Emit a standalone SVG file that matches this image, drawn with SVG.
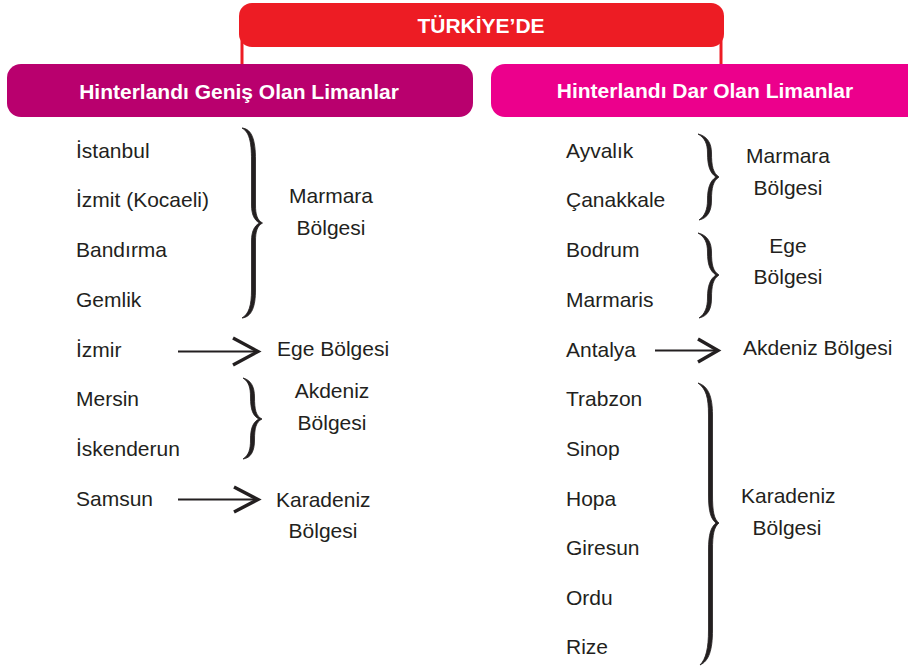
<svg xmlns="http://www.w3.org/2000/svg" width="908" height="671" viewBox="0 0 908 671">
<style>
.t{font-family:"Liberation Sans",Arial,sans-serif;font-size:21px;fill:#231f20}
.h{font-family:"Liberation Sans",Arial,sans-serif;font-size:21px;font-weight:bold;fill:#fff;text-anchor:middle}
.c{text-anchor:middle}
.ln{stroke:#231f20;stroke-width:2;fill:none}
.ah{stroke:#231f20;stroke-width:3.4;fill:none;stroke-linejoin:miter;stroke-linecap:butt}
.br{fill:#231f20;stroke:#231f20;stroke-width:0.8}
.rl{stroke:#ed1c24;stroke-width:3;fill:none}
</style>
<rect width="908" height="671" fill="#fff"/>
<g id="connectors">
<line class="rl" x1="242" y1="36" x2="242" y2="66"/>
<line class="rl" x1="721" y1="36" x2="721" y2="66"/>
<line class="ln" x1="178" y1="351.5" x2="256" y2="351.5"/>
<polyline class="ah" points="233,338 258,351.5 233,365"/>
<line class="ln" x1="178" y1="499.5" x2="256" y2="499.5"/>
<polyline class="ah" points="234,487 258,499.5 234,512"/>
<line class="ln" x1="655" y1="350.5" x2="716" y2="350.5"/>
<polyline class="ah" points="698,339 718,350.5 698,362"/>
<path class="br" d="M242,128 C252,129 255.5,140 255.5,160 L255.5,205 C255.5,214 257,220 262.5,223 C257,226 255.5,232 255.5,241 L255.5,290 C255.5,306 252,317 242,318 C249,314 251.5,305 251.5,290 L251.5,241 C251.5,232 254,226 259.5,223 C254,220 251.5,214 251.5,205 L251.5,160 C251.5,141 249,132 242,128Z"/>
<path class="br" d="M243,378 C251,380 254.5,387 254.5,397 C254.5,410 256,416 262,419 C256,422 254.5,428 254.5,440 C254.5,451 251,458 243,459 C249,455 250.5,449 250.5,440 C250.5,428 253,422 259,419 C253,416 250.5,410 250.5,397 C250.5,388 249,382 243,378Z"/>
<path class="br" d="M698,134 C707,136 711.5,143 711.5,153 C711.5,166 713,173 719,177 C713,181 711.5,188 711.5,200 C711.5,211 708,218 699,220 C705,216 707.5,209 707.5,200 C707.5,188 710,181 716,177 C710,173 707.5,166 707.5,153 C707.5,144 705,138 698,134Z"/>
<path class="br" d="M698,233 C707,235 711.5,242 711.5,252 C711.5,265 713,271 719,275 C713,279 711.5,286 711.5,298 C711.5,309 708,316 699,318 C705,314 707.5,307 707.5,298 C707.5,286 710,279 716,275 C710,271 707.5,265 707.5,252 C707.5,243 705,237 698,233Z"/>
<path class="br" d="M698,383 C708,386 712.5,396 712.5,415 L712.5,495 C712.5,512 714,519 719,523 C714,527 712.5,534 712.5,550 L712.5,630 C712.5,650 709,661 700,665 C706,659 708.5,648 708.5,630 L708.5,550 C708.5,534 711,527 716,523 C711,519 708.5,512 708.5,495 L708.5,415 C708.5,397 706,389 698,383Z"/>
</g>
<g id="turkiyede">
<rect x="239" y="3" width="485" height="44" rx="13" fill="#ed1c24"/>
<text class="h" x="481" y="33">TÜRKİYE’DE</text>
</g>
<g id="genis-header">
<rect x="7" y="64" width="466" height="53" rx="14" fill="#b9006e"/>
<text class="h" x="239" y="99">Hinterlandı Geniş Olan Limanlar</text>
</g>
<g id="dar-header">
<rect x="491" y="64" width="440" height="53" rx="14" fill="#ec008c"/>
<text class="h" x="705" y="98">Hinterlandı Dar Olan Limanlar</text>
</g>
<g id="genis-list">
<text class="t" x="76" y="158">İstanbul</text>
<text class="t" x="76" y="207">İzmit (Kocaeli)</text>
<text class="t" x="76" y="257">Bandırma</text>
<text class="t" x="76" y="307">Gemlik</text>
<text class="t" x="76" y="357">İzmir</text>
<text class="t" x="76" y="406">Mersin</text>
<text class="t" x="76" y="456">İskenderun</text>
<text class="t" x="76" y="506">Samsun</text>
</g>
<g id="genis-regions">
<text class="t c" x="331" y="203">Marmara</text>
<text class="t c" x="331" y="235">Bölgesi</text>
<text class="t" x="277" y="356">Ege Bölgesi</text>
<text class="t c" x="332" y="398">Akdeniz</text>
<text class="t c" x="332" y="430">Bölgesi</text>
<text class="t" x="276" y="507">Karadeniz</text>
<text class="t c" x="323" y="538">Bölgesi</text>
</g>
<g id="dar-list">
<text class="t" x="566" y="158">Ayvalık</text>
<text class="t" x="566" y="207">Çanakkale</text>
<text class="t" x="566" y="257">Bodrum</text>
<text class="t" x="566" y="307">Marmaris</text>
<text class="t" x="566" y="357">Antalya</text>
<text class="t" x="566" y="406">Trabzon</text>
<text class="t" x="566" y="456">Sinop</text>
<text class="t" x="566" y="506">Hopa</text>
<text class="t" x="566" y="555">Giresun</text>
<text class="t" x="566" y="605">Ordu</text>
<text class="t" x="566" y="654">Rize</text>
</g>
<g id="dar-regions">
<text class="t c" x="788" y="163">Marmara</text>
<text class="t c" x="788" y="195">Bölgesi</text>
<text class="t c" x="788" y="253">Ege</text>
<text class="t c" x="788" y="284">Bölgesi</text>
<text class="t" x="743" y="355">Akdeniz Bölgesi</text>
<text class="t" x="741" y="503">Karadeniz</text>
<text class="t c" x="787" y="535">Bölgesi</text>
</g>
</svg>
